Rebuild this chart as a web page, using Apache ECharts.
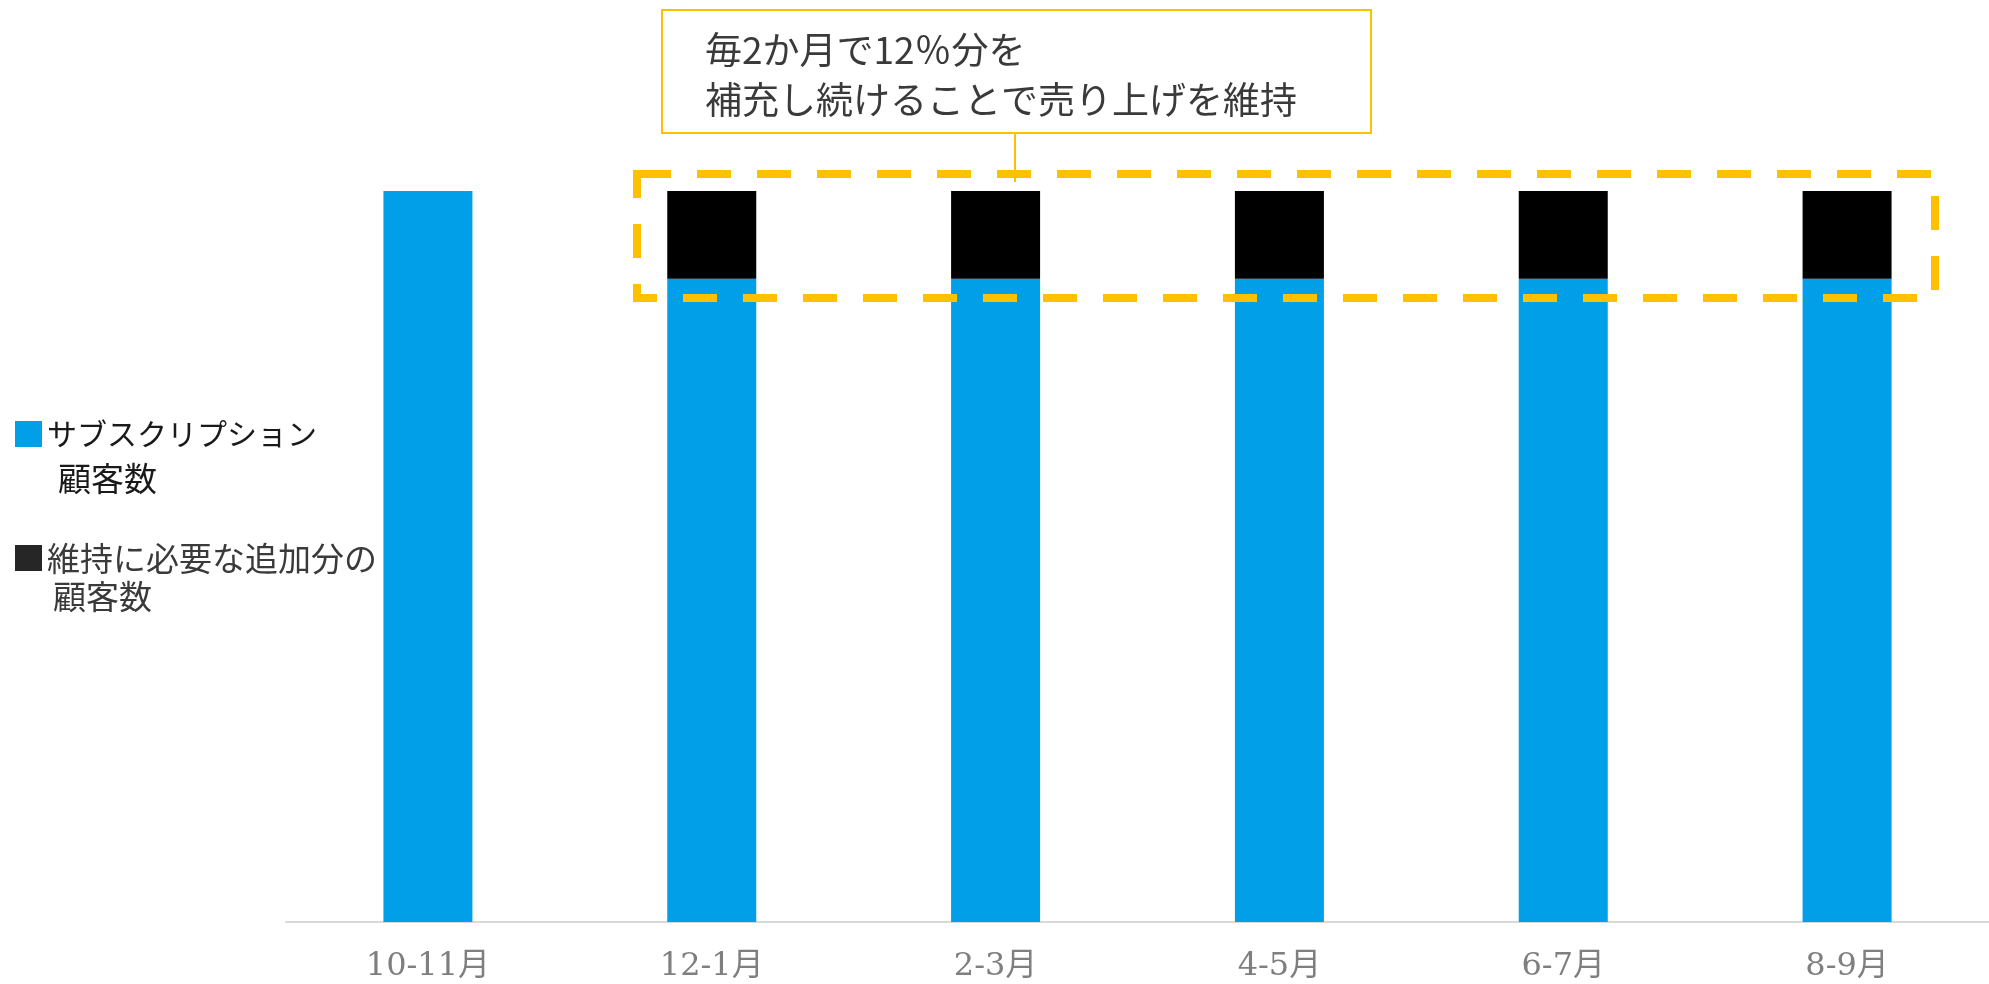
<!DOCTYPE html>
<html>
<head>
<meta charset="utf-8">
<script src="https://cdn.jsdelivr.net/npm/echarts@6/dist/echarts.min.js"></script>
<style>
  html, body { margin: 0; padding: 0; background: #ffffff; }
  #main { width: 1989px; height: 984px; }
</style>
</head>
<body>
<div id="main"></div>
<script>
// Two-month periods on the x axis
const categories = ['10-11月', '12-1月', '2-3月', '4-5月', '6-7月', '8-9月'];
// Subscribers carried over (index: first period = 100)
const subscribers = [100, 88, 88, 88, 88, 88];
// Additional subscribers needed each period to keep the total level
const additions = ['-', 12, 12, 12, 12, 12];

const seriesNames = ['サブスクリプション顧客数', '維持に必要な追加分の顧客数'];

const jpFont = '"Noto Sans CJK JP", "Noto Sans", sans-serif';
const axisFont = '"DejaVu Serif", "Noto Sans CJK JP", serif';
const gold = '#FFC000';

const chart = echarts.init(document.getElementById('main'), null, { renderer: 'canvas' });

chart.setOption({
  animation: false,
  backgroundColor: '#ffffff',
  grid: { left: 286, width: 1709, top: 191, bottom: 62, containLabel: false },
  xAxis: {
    type: 'category',
    data: categories,
    axisLine: { lineStyle: { color: '#d9d9d9', width: 2 } },
    axisTick: { show: false },
    axisLabel: { color: '#7f7f7f', fontSize: 32, fontFamily: axisFont, margin: 29 }
  },
  yAxis: {
    type: 'value',
    min: 0,
    max: 100,
    show: false,
    splitLine: { show: false }
  },
  legend: {
    orient: 'vertical',
    left: 15,
    top: 417,
    padding: 0,
    itemWidth: 27,
    itemHeight: 26,
    itemGap: 90,
    icon: 'rect',
    selectedMode: false,
    formatter: function (name) {
      return name === seriesNames[0] ? 'サブスクリプション' : '維持に必要な追加分の';
    },
    data: [
      { name: seriesNames[0], itemStyle: { color: '#009FE8' },
        textStyle: { fontSize: 30, lineHeight: 34, color: '#1a1a1a', fontFamily: jpFont } },
      { name: seriesNames[1], itemStyle: { color: '#262626' },
        textStyle: { fontSize: 33, lineHeight: 34, color: '#3a3a3a', fontFamily: jpFont } }
    ]
  },
  series: [
    {
      name: seriesNames[0],
      type: 'bar',
      stack: 'total',
      barWidth: 89,
      data: subscribers,
      itemStyle: { color: '#009FE8' }
    },
    {
      name: seriesNames[1],
      type: 'bar',
      stack: 'total',
      barWidth: 89,
      data: additions,
      itemStyle: { color: '#000000' }
    }
  ],
  graphic: [
    // second lines of the legend entries
    { type: 'text', left: 58, top: 462,
      style: { text: '顧客数', fontSize: 33, fill: '#1a1a1a', fontFamily: jpFont } },
    { type: 'text', left: 53, top: 580,
      style: { text: '顧客数', fontSize: 33, fill: '#3a3a3a', fontFamily: jpFont } },
    // dashed frame around the replenished segments
    { type: 'rect', z: 10,
      shape: { x: 637, y: 174, width: 1298, height: 124 },
      style: { fill: 'none', stroke: gold, lineWidth: 8, lineDash: [34, 26] } },
    // connector from the callout to the frame
    { type: 'line', z: 11,
      shape: { x1: 1015, y1: 133, x2: 1015, y2: 182 },
      style: { stroke: gold, lineWidth: 2 } },
    // callout box
    { type: 'rect', z: 11,
      shape: { x: 662, y: 10, width: 709, height: 123 },
      style: { fill: '#ffffff', stroke: gold, lineWidth: 2 } },
    { type: 'text', z: 12, x: 705, y: 25,
      style: {
        text: '毎2か月で12％分を\n補充し続けることで売り上げを維持',
        fontSize: 37, lineHeight: 50, fill: '#3a3a3a', fontFamily: jpFont
      } }
  ]
});
</script>
</body>
</html>
